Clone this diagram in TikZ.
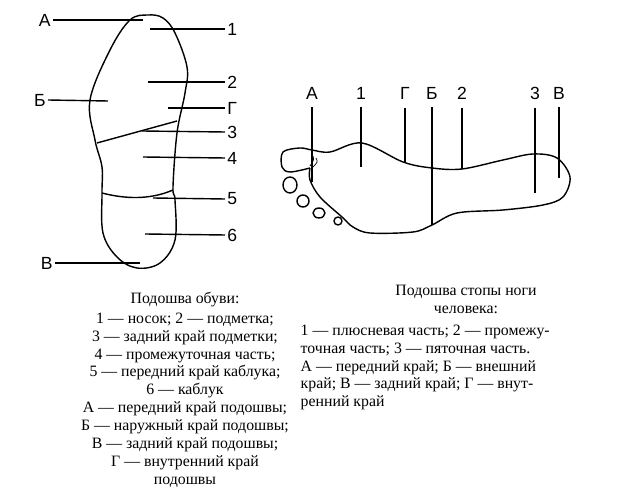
\documentclass[tikz,border=0pt]{standalone}
\usepackage{fontspec}
\setmainfont{Liberation Serif}
\newfontfamily\handfont{Liberation Sans}
\usetikzlibrary{calc}

\begin{document}
\begin{tikzpicture}[x=0.02cm, y=-0.02cm, thick, line join=round]
  \tikzset{
    mark label/.style={font=\handfont\fontsize{10}{10}\selectfont, inner sep=1pt},
    caption/.style={font=\fontsize{9}{10.2}\selectfont, align=center, inner sep=0pt},
    leader/.style={line width=0.8pt}
  }
  \useasboundingbox (0,0) rectangle (623,489);

  % shoe sole
  \draw plot[smooth cycle, tension=0.6] coordinates {(148,15) (130,20) (110,50) (90,100) (95,140) (102,167)
    (102,193) (103,233) (117,257) (137,268) (160,263) (175,240) (175,200) (173,187) (177,133) (185,93)
    (187,67) (175,33) (163,18)};
  \draw (97,143) -- (177,121);
  \draw (102,193) .. controls (125,199) and (150,200) .. (173,190);

  \foreach \lbl/\xa/\ya/\xb/\yb [count=\n] in {1/150/29/222/29, 2/148/82/222/82, Г/168/108/222/108,
      3/142/131/222/132, 4/143/157/222/158, 5/153/198/222/199, 6/145/234/222/235} {
    \coordinate (shoeA\n) at (\xa,\ya);
    \node[mark label, anchor=west] (shoeL\n) at (\xb+3,\yb) {\lbl};
    \draw[leader] (shoeA\n) -- (shoeL\n.west);
  }
  \foreach \lbl/\xa/\ya/\xb/\yb [count=\n] in {А/143/20/55/20, Б/108/101/50/100, В/140/263/57/263} {
    \coordinate (edgeA\n) at (\xa,\ya);
    \node[mark label, anchor=east] (edgeL\n) at (\xb-2,\yb) {\lbl};
    \draw[leader] (edgeA\n) -- (edgeL\n.east);
  }

  % foot sole
  \draw plot[smooth, tension=0.55] coordinates {(310,168) (290,172) (282,167) (283,152) (300,148) (312,150)
    (330,152) (362,143) (403,162) (432,168) (462,169) (503,160) (533,154) (557,158) (570,177) (563,197)
    (543,205) (503,210) (457,213) (432,225) (413,232) (370,233) (353,227) (342,217) (320,197) (310,180) (310,168)};
  \draw[thin] (310,166) .. controls (314,160) .. (313,156);
  \draw[thin] (312,168) .. controls (318,162) .. (316,158);
  \foreach \cx/\cy/\rx/\ry in {290/185/7/8, 303/201/6/6, 319/213/6/5, 338/221/4/4}
    \draw (\cx,\cy) ellipse ({\rx} and {\ry});

  \foreach \lbl/\xx/\yb [count=\n] in {А/312/182, 1/361/167, Г/405/162, Б/432/225, 2/462/169, 3/535/193, В/559/178} {
    \node[mark label] (footL\n) at (\xx,93) {\lbl};
    \coordinate (footA\n) at (\xx,\yb);
    \draw[leader] (footL\n.south) ++(0,6) -- (footA\n);
  }

  % captions
  \node[caption] (shoeCap) at (185,300) {Подошва обуви:};
  \node[caption, anchor=north] (shoeText) at (185,312) {%
    1 — носок; 2 — подметка;\\
    3 — задний край подметки;\\
    4 — промежуточная часть;\\
    5 — передний край каблука;\\
    6 — каблук\\
    А — передний край подошвы;\\
    Б — наружный край подошвы;\\
    В — задний край подошвы;\\
    Г — внутренний край\\
    подошвы};
  \node[caption] (footCap) at (466,299) {Подошва стопы ноги\\человека:};
  \node[caption, align=left, anchor=north west] (footText) at (300,324) {%
    1 — плюсневая часть; 2 — промежу-\\
    точная часть; 3 — пяточная часть.\\
    А — передний край; Б — внешний\\
    край; В — задний край; Г — внут-\\
    ренний край};
\end{tikzpicture}
\end{document}
